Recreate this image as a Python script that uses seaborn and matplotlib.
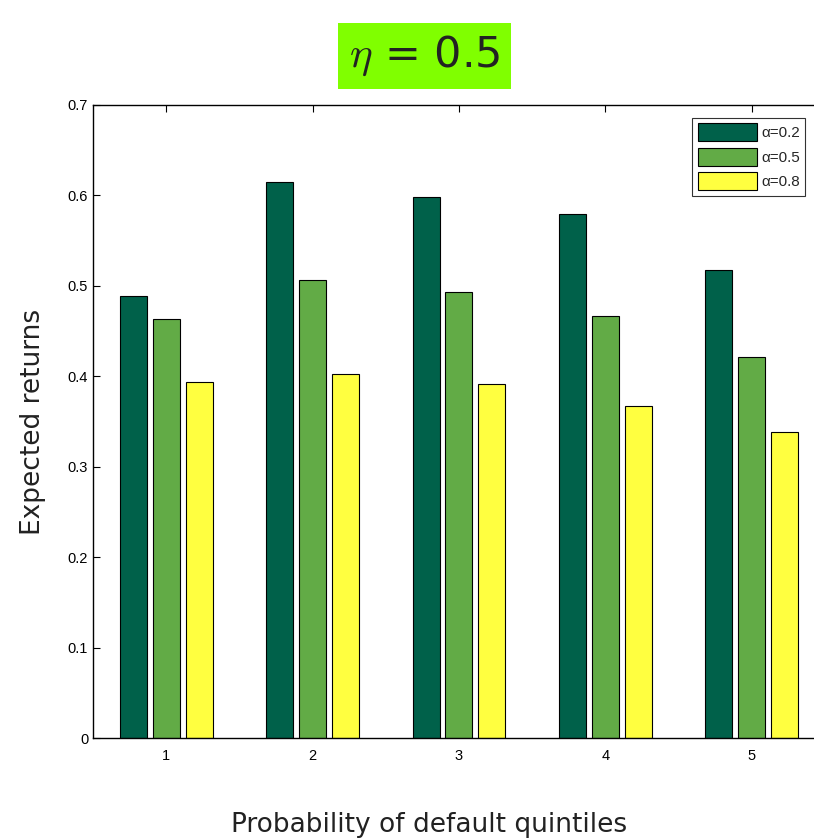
import pandas as pd
import matplotlib
matplotlib.use("Agg")
import matplotlib.pyplot as plt
import seaborn as sns

sns.set_style("ticks")
plt.rcParams["font.family"] = ["Liberation Sans", "DejaVu Sans"]
plt.rcParams["mathtext.fontset"] = "cm"

# Data
quintiles = ["1", "2", "3", "4", "5"]
alpha_labels = ["\u03b1=0.2", "\u03b1=0.5", "\u03b1=0.8"]
returns_a02 = [0.489, 0.615, 0.598, 0.579, 0.517]
returns_a05 = [0.463, 0.506, 0.493, 0.467, 0.421]
returns_a08 = [0.394, 0.402, 0.391, 0.367, 0.338]
colors = ["#00614A", "#62AB46", "#FFFF40"]

data = pd.DataFrame({
    "quintile": quintiles * 3,
    "alpha": [alpha_labels[0]] * 5 + [alpha_labels[1]] * 5 + [alpha_labels[2]] * 5,
    "value": returns_a02 + returns_a05 + returns_a08,
})

fig = plt.figure(figsize=(8.14, 8.4), dpi=100)
ax = fig.add_axes([0.1143, 0.1214, 0.899, 0.7536])

sns.barplot(data=data, x="quintile", y="value", hue="alpha", palette=colors,
            width=0.675, gap=0.18, edgecolor="black", linewidth=0.8,
            saturation=1, ax=ax)

ax.set_xlim(-0.5, 4.5)
ax.set_ylim(0, 0.7)
ax.set_yticks([0, 0.1, 0.2, 0.3, 0.4, 0.5, 0.6, 0.7])
ax.set_yticklabels(["0", "0.1", "0.2", "0.3", "0.4", "0.5", "0.6", "0.7"])
ax.tick_params(direction="in", length=5, labelsize=10.5, top=True, right=False,
               width=0.8, colors="black")
ax.tick_params(axis="x", pad=8)
for side in ["left", "bottom", "top"]:
    ax.spines[side].set_visible(True)
    ax.spines[side].set_color("black")
    ax.spines[side].set_linewidth(1.0)
ax.spines["right"].set_visible(False)

ax.set_xlabel("")
fig.text(0.527, 1 - 825 / 840, "Probability of default quintiles", fontsize=19,
         family=["DejaVu Sans"], ha="center", va="center", color="#222222")
ax.set_ylabel("Expected returns", fontsize=19, family=["DejaVu Sans"], labelpad=16,
              color="#222222")

leg = ax.legend(loc="upper right", bbox_to_anchor=(0.973, 0.98), fontsize=11,
                frameon=True, fancybox=False, edgecolor="black",
                handlelength=3.9, handleheight=1.45, handletextpad=0.25,
                labelspacing=0.42, borderpad=0.35, borderaxespad=0)
leg.get_frame().set_linewidth(0.8)

fig.text(0.522, 0.933, r"$\eta$ = 0.5", fontsize=31, family=["DejaVu Sans"],
         ha="center", va="center", color="#222222",
         bbox=dict(facecolor="#80FF00", edgecolor="none", boxstyle="square,pad=0.25"))

fig.savefig("out.png", dpi=100)
